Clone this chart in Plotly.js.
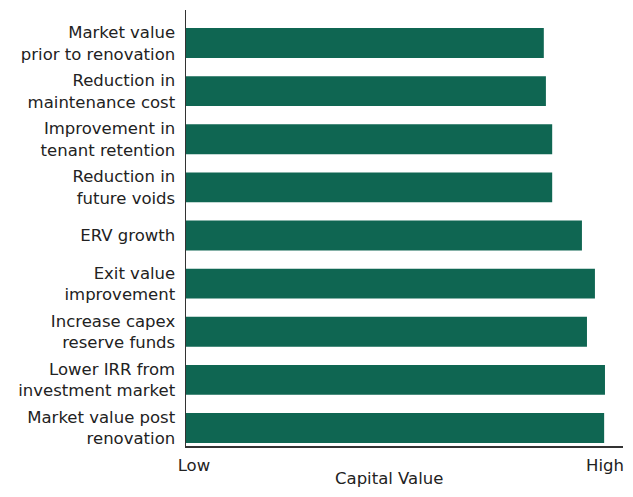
<!DOCTYPE html>
<html>
<head>
<meta charset="utf-8">
<script src="https://cdn.plot.ly/plotly-3.0.1.min.js"></script>
<style>html,body{margin:0;padding:0;background:#fff;}#chart{width:633px;height:497px;}</style>
</head>
<body>
<div id="chart"></div>
<script>
var categories = [
  "Market value<br>prior to renovation",
  "Reduction in<br>maintenance cost",
  "Improvement in<br>tenant retention",
  "Reduction in<br>future voids",
  "ERV growth",
  "Exit value<br>improvement",
  "Increase capex<br>reserve funds",
  "Lower IRR from<br>investment market",
  "Market value post<br>renovation"
];
var capitalValue = [85.4, 85.9, 87.4, 87.4, 94.5, 97.6, 95.7, 100, 99.8];
var xTickVals = [1.9, 100];
var xTickText = ["Low", "High"];

var font = {family: "'DejaVu Sans', sans-serif", size: 16.5, color: "#222"};

var trace = {
  type: "bar",
  orientation: "h",
  y: categories,
  x: capitalValue,
  width: 0.62,
  marker: {color: "#0f6652", line: {width: 0}},
  hoverinfo: "none"
};

var layout = {
  width: 633, height: 497,
  margin: {l: 186, r: 10, t: 10, b: 51, pad: 0},
  paper_bgcolor: "#fff", plot_bgcolor: "#fff",
  showlegend: false,
  font: font,
  xaxis: {
    range: [0, 104.3],
    tickvals: xTickVals, ticktext: xTickText,
    showgrid: false, zeroline: false,
    showline: true, linecolor: "#333", linewidth: 1.5,
    ticks: "", ticklabelstandoff: 4,
    tickfont: font
  },
  yaxis: {
    type: "category",
    range: [8.374, -0.686],
    showgrid: false, zeroline: false,
    showline: true, linecolor: "#333", linewidth: 1.5,
    ticks: "", ticklabelstandoff: 6,
    tickfont: font
  },
  annotations: [{
    text: "Capital Value", xref: "paper", yref: "paper",
    x: 0.4645, y: 0, yshift: -21, xanchor: "center", yanchor: "top",
    showarrow: false, font: font
  }]
};

Plotly.newPlot("chart", [trace], layout, {displayModeBar: false, staticPlot: true});
</script>
</body>
</html>
